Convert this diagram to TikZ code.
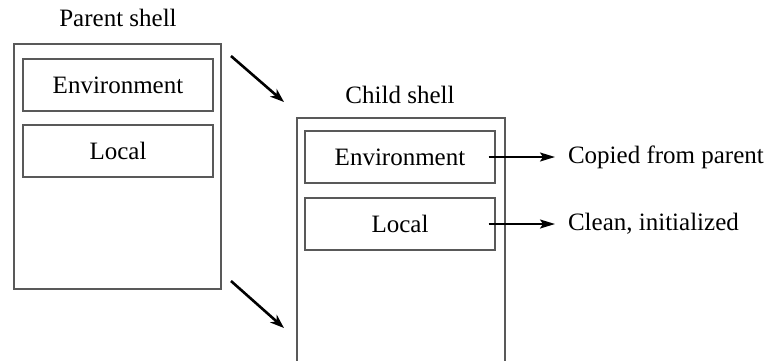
\documentclass[tikz,border=0pt]{standalone}
\usepackage{fontspec}
\setmainfont{Liberation Serif}
\usetikzlibrary{arrows.meta}

\begin{document}
\begin{tikzpicture}[x=0.5pt,y=-0.5pt,font=\fontsize{12.5}{15}\selectfont,
  shellbox/.style={draw=black!65,line width=0.75pt},
  partbox/.style={draw=black!65,line width=0.65pt,minimum width=95pt,minimum height=26pt},
  bigarrow/.style={line width=1.3pt,-{Stealth[length=7pt,width=5pt,inset=2pt]}},
  smallarrow/.style={line width=0.9pt,-{Stealth[length=7.5pt,width=4.5pt,inset=1.5pt]}}]

\useasboundingbox (0,0) rectangle (771,360);
\clip (0,0) rectangle (771,360);

%Parent
\node (plabel) at (118,18) {Parent shell};
\node (parent) at (117.5,166.5) [shellbox,minimum width=103.5pt,minimum height=122.5pt] {};
\node (penv)   at (118,85)  [partbox] {Environment};
\node (plocal) at (118,151) [partbox] {Local};

%Child
\node (clabel) at (400,95) {Child shell};
\node (child)  at (401,259) [shellbox,minimum width=104pt,minimum height=141pt] {};
\node (cenv)   at (400,157) [partbox] {Environment};
\node (clocal) at (400,224) [partbox] {Local};

\node (copied) at (561,157) [anchor=west] {Copied from parent};
\node (clean)  at (561,224) [anchor=west] {Clean, initialized};

%from Parent to Child
\coordinate (top1) at (231,56);  \coordinate (top2) at (284,102);
\coordinate (bot1) at (231,281); \coordinate (bot2) at (284,328);
\draw[bigarrow] (top1) -- (top2);
\draw[bigarrow] (bot1) -- (bot2);

\draw[smallarrow,shorten >=3pt] ([xshift=-3.5pt]cenv.east) -- (copied.west);
\draw[smallarrow,shorten >=3pt] ([xshift=-3.5pt]clocal.east) -- (clean.west);

\end{tikzpicture}
\end{document}
